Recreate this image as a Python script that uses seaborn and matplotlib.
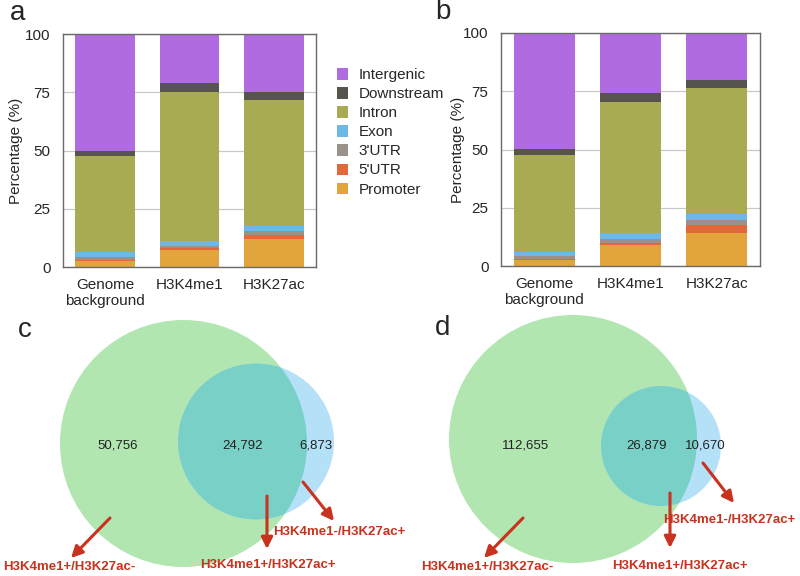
import numpy as np
import pandas as pd
import matplotlib
matplotlib.use("Agg")
import matplotlib.pyplot as plt
from matplotlib.patches import Patch, Circle
import seaborn as sns

# ---- data ----
samples = ["Genome\nbackground", "H3K4me1", "H3K27ac"]
features = ["Intergenic", "Downstream", "Intron", "Exon", "3'UTR", "5'UTR", "Promoter"]
colors = ["#b16be0", "#57544f", "#a9ab52", "#6db9e6", "#9a918a", "#e0683a", "#e2a53c"]

# percentages per feature and sample
a_promoter = [2.6, 7.2, 11.9]
a_utr5 = [0.4, 0.8, 1.7]
a_utr3 = [1.5, 1.1, 2.0]
a_exon = [1.8, 2.1, 2.1]
a_intron = [41.3, 64.0, 54.0]
a_downstream = [2.4, 3.6, 3.5]
a_intergenic = [50.0, 21.2, 24.8]

b_promoter = [2.7, 8.9, 14.0]
b_utr5 = [0.3, 1.1, 3.5]
b_utr3 = [1.2, 1.6, 2.2]
b_exon = [2.0, 2.4, 2.8]
b_intron = [41.4, 56.6, 53.8]
b_downstream = [2.5, 3.6, 3.6]
b_intergenic = [49.9, 25.8, 20.1]

venn_c = [50756, 24792, 6873]
venn_d = [112655, 26879, 10670]
venn_labels = ["H3K4me1+/H3K27ac-", "H3K4me1+/H3K27ac+", "H3K4me1-/H3K27ac+"]

sns.set_style("white")
plt.rcParams["font.family"] = ["Liberation Sans", "DejaVu Sans"]

fig = plt.figure(figsize=(8, 5.76), dpi=100)


def px_axes(x0, y0, x1, y1, **kw):
    return fig.add_axes([x0 / 800, 1 - y1 / 576, (x1 - x0) / 800, (y1 - y0) / 576], **kw)


# venn canvas (pixel coords), drawn behind the bar panels
axv = px_axes(0, 0, 800, 576)
axv.set_xlim(0, 800)
axv.set_ylim(576, 0)
axv.axis("off")


def stacked(ax, layers, label_x):
    # layers bottom -> top; draw tallest cumulative first
    cum = np.cumsum(np.array(layers), axis=0)
    cols = colors[::-1]
    for i in range(len(layers) - 1, -1, -1):
        df = pd.DataFrame({"sample": samples, "val": cum[i]})
        sns.barplot(data=df, x="sample", y="val", color=cols[i], width=0.71,
                    saturation=1, linewidth=0, edgecolor="none", ax=ax, zorder=2)
    ax.set_xlim(-0.5, 2.5)
    ax.set_ylim(0, 100)
    ax.set_yticks([0, 25, 50, 75, 100])
    ax.set_xlabel("")
    ax.set_ylabel("Percentage (%)", fontsize=11)
    ax.yaxis.set_label_coords(label_x, 0.5)
    ax.yaxis.grid(True, color="#c8c8c8", lw=0.9, zorder=0)
    ax.set_axisbelow(True)
    ax.tick_params(axis="y", length=0, labelsize=11, pad=9)
    ax.tick_params(axis="x", length=0, labelsize=11, pad=8)
    for s in ax.spines.values():
        s.set_color("#6a6a6a")
        s.set_linewidth(1)


ax_a = px_axes(63, 34, 316, 267)
stacked(ax_a, [a_promoter, a_utr5, a_utr3, a_exon, a_intron, a_downstream, a_intergenic], -0.158)
ax_b = px_axes(501, 33, 760, 266)
stacked(ax_b, [b_promoter, b_utr5, b_utr3, b_exon, b_intron, b_downstream, b_intergenic], -0.139)

handles = [Patch(facecolor=c, edgecolor="none") for c in colors]
ax_a.legend(handles, features, loc="upper left", bbox_to_anchor=(1.083, 0.853),
            frameon=False, fontsize=11, handlelength=0.75, handleheight=0.75,
            handletextpad=0.65, labelspacing=0.33, borderaxespad=0, borderpad=0)

fig.text(10 / 800, 1 - 13 / 576, "a", fontsize=20, va="center")
fig.text(435 / 800, 1 - 12 / 576, "b", fontsize=20, va="center")
fig.text(18 / 800, 1 - 330 / 576, "c", fontsize=20, va="center")
fig.text(435 / 800, 1 - 328 / 576, "d", fontsize=20, va="center")

green = "#b2e6b0"
blue = "#b5e1f8"
teal = "#78d0c7"
red = "#c8321e"


def venn(big, small, counts, num_x, num_y, arrows, label_pos):
    axv.add_patch(Circle(big[:2], big[2], facecolor=green, edgecolor="none", zorder=1))
    axv.add_patch(Circle(small[:2], small[2], facecolor=blue, edgecolor="none", zorder=1))
    t = Circle(small[:2], small[2], facecolor=teal, edgecolor="none", zorder=2)
    axv.add_patch(t)
    t.set_clip_path(Circle(big[:2], big[2], transform=axv.transData))
    for x, n in zip(num_x, counts):
        axv.text(x, num_y, f"{n:,}", ha="center", va="center", fontsize=9.5,
                 color="#222222", zorder=3)
    for (s, e) in arrows:
        axv.annotate("", xy=e, xytext=s, zorder=4,
                     arrowprops=dict(arrowstyle="-|>", color=red, lw=2.2,
                                     mutation_scale=17, shrinkA=0, shrinkB=0))
    for (x, y, ha), lab in zip(label_pos, venn_labels):
        axv.text(x, y, lab, ha=ha, va="center", fontsize=9.5, fontweight="bold",
                 color=red, zorder=4)


venn((183.5, 443.5, 123.5), (256, 441.5, 78), venn_c, [118, 243, 316], 446,
     [((110, 518), (71, 558)), ((267, 496), (267, 549)), ((303, 482), (334, 521))],
     [(3, 567, "left"), (268, 565, "center"), (273, 532, "left")])

venn((573, 439, 124), (661, 446, 60), venn_d, [526, 647, 705], 446,
     [((523, 518), (484, 558)), ((670, 493), (670, 548)), ((703, 463), (734, 503))],
     [(421, 567, "left"), (680, 566, "center"), (663, 520, "left")])

fig.savefig("out.png", dpi=100)
